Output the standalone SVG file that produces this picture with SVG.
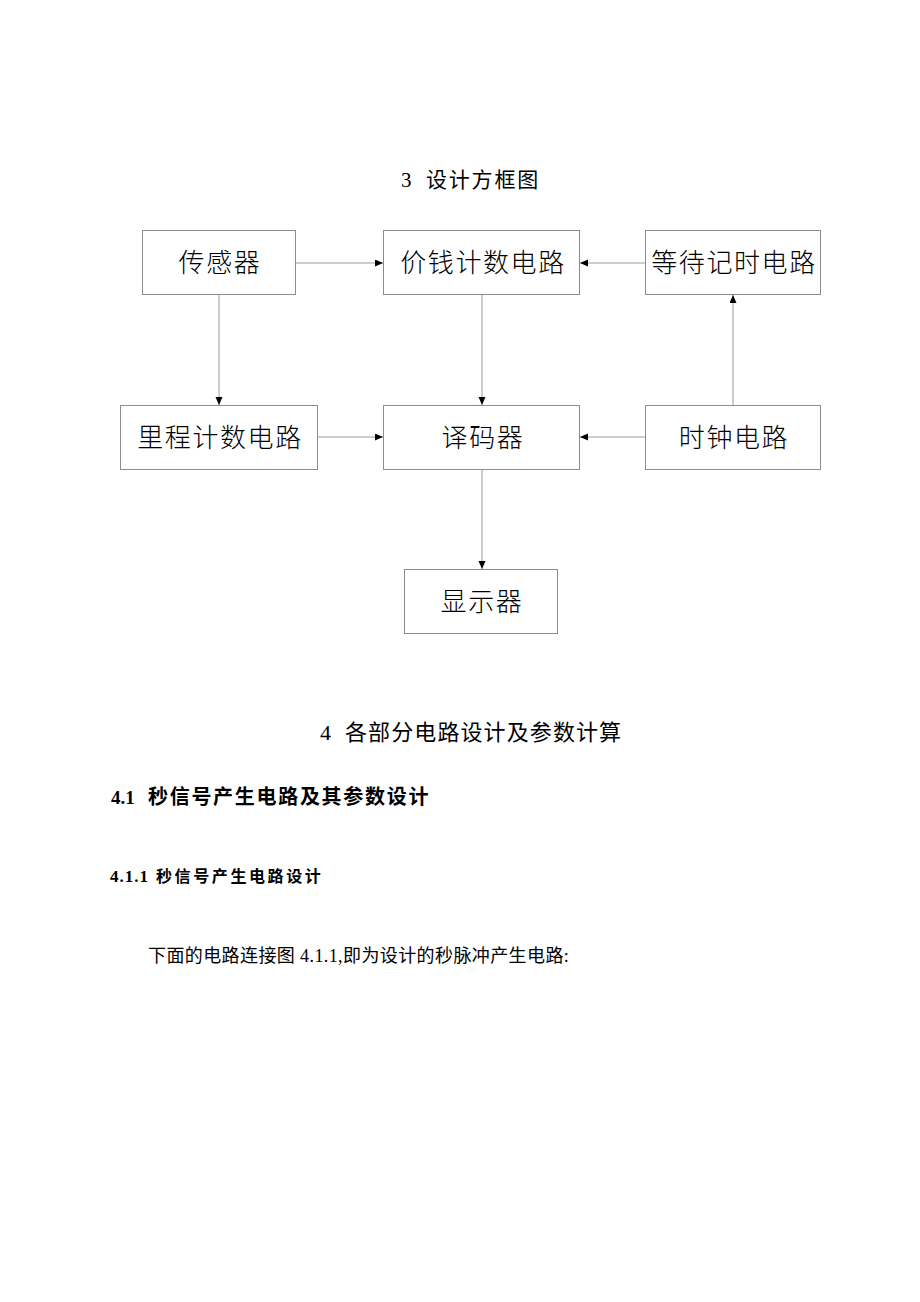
<svg xmlns="http://www.w3.org/2000/svg" width="920" height="1302" viewBox="0 0 920 1302">
<style>
.box{fill:#fff;stroke:#8c8c8c;stroke-width:1}
.lbl{font-family:"Noto Sans CJK SC",sans-serif;font-size:26px;font-weight:300;fill:#000;text-anchor:middle;letter-spacing:1.6px}
.ln{stroke:#9a9a9a;stroke-width:1;fill:none}
.h{font-family:"Liberation Serif","Noto Sans CJK SC",serif;fill:#000}
</style>
<defs>
<marker id="ah" markerUnits="userSpaceOnUse" markerWidth="9" markerHeight="8" refX="8" refY="3.5" orient="auto">
<path d="M0,0 L8,3.5 L0,7 z" fill="#000"/>
</marker>
</defs>
<rect width="920" height="1302" fill="#fff"/>
<text class="h" x="401" y="187" font-size="21">3</text>
<text class="h" x="426" y="187" font-size="21" letter-spacing="1.8">设计方框图</text>
<g id="connectors">
<line class="ln" x1="296" y1="263" x2="383" y2="263" marker-end="url(#ah)"/>
<line class="ln" x1="645" y1="263" x2="580" y2="263" marker-end="url(#ah)"/>
<line class="ln" x1="219" y1="295" x2="219" y2="405" marker-end="url(#ah)"/>
<line class="ln" x1="482" y1="295" x2="482" y2="405" marker-end="url(#ah)"/>
<line class="ln" x1="733" y1="405" x2="733" y2="295" marker-end="url(#ah)"/>
<line class="ln" x1="318" y1="437" x2="383" y2="437" marker-end="url(#ah)"/>
<line class="ln" x1="645" y1="437" x2="580" y2="437" marker-end="url(#ah)"/>
<line class="ln" x1="482" y1="470" x2="482" y2="569" marker-end="url(#ah)"/>
</g>
<g id="sensor"><rect class="box" x="142.5" y="230.5" width="153" height="64"/><text class="lbl" x="220" y="272">传感器</text></g>
<g id="price"><rect class="box" x="383.5" y="230.5" width="196" height="64"/><text class="lbl" x="483" y="272">价钱计数电路</text></g>
<g id="wait"><rect class="box" x="645.5" y="230.5" width="175" height="64"/><text class="lbl" x="734" y="272">等待记时电路</text></g>
<g id="mileage"><rect class="box" x="120.5" y="405.5" width="197" height="64"/><text class="lbl" x="220" y="447">里程计数电路</text></g>
<g id="decoder"><rect class="box" x="383.5" y="405.5" width="196" height="64"/><text class="lbl" x="483" y="447">译码器</text></g>
<g id="clock"><rect class="box" x="645.5" y="405.5" width="175" height="64"/><text class="lbl" x="734" y="447">时钟电路</text></g>
<g id="display"><rect class="box" x="404.5" y="569.5" width="153" height="64"/><text class="lbl" x="482" y="611">显示器</text></g>
<text class="h" x="320" y="740" font-size="22">4</text>
<text class="h" x="345" y="740" font-size="22" letter-spacing="1.1">各部分电路设计及参数计算</text>
<text class="h" x="111" y="804" font-size="19" font-weight="bold">4.1</text>
<text class="h" x="148" y="804" font-size="20" font-weight="bold" letter-spacing="1.7">秒信号产生电路及其参数设计</text>
<text class="h" x="110" y="882" font-size="17" font-weight="bold" letter-spacing="1">4.1.1</text>
<text class="h" x="156" y="882" font-size="16" font-weight="bold" letter-spacing="2.6">秒信号产生电路设计</text>
<text class="h" x="148" y="962" font-size="18" letter-spacing="0.4">下面的电路连接图 4.1.1,即为设计的秒脉冲产生电路:</text>
</svg>
